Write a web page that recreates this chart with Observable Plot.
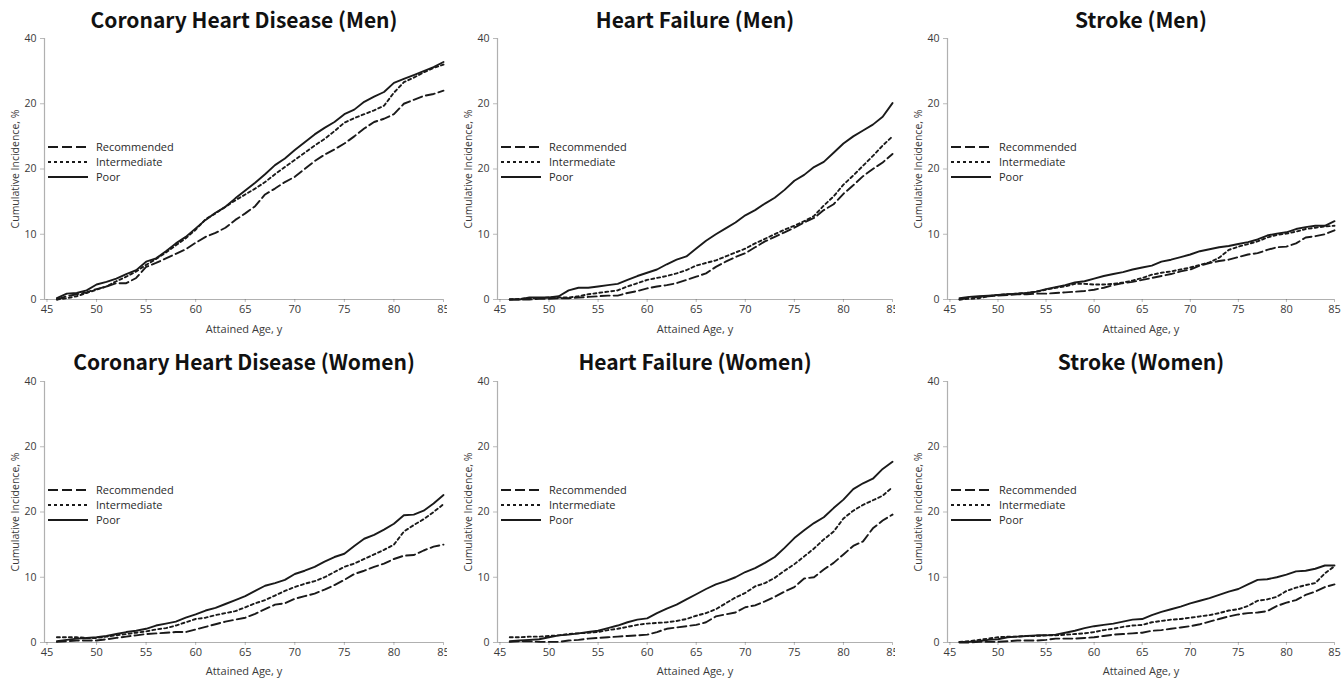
<!DOCTYPE html>
<html><head><meta charset="utf-8">
<script src="https://cdn.jsdelivr.net/npm/d3@7"></script>
<script src="https://cdn.jsdelivr.net/npm/@observablehq/plot@0.6"></script>
<style>
body{margin:0;background:#fff;}
#root{position:relative;width:1342px;height:680px;overflow:hidden;background:#fff;font-family:"Open Sans",sans-serif;}
.panel{position:absolute;}
.legend{position:absolute;font-size:11px;color:#2a2a2a;}
.legend .row{position:absolute;left:0;height:15px;display:flex;align-items:center;white-space:nowrap;}
.legend svg{display:block;margin-right:8px;}
</style></head><body><div id="root"></div>
<script>
const ages = [46,47,48,49,50,51,52,53,54,55,56,57,58,59,60,61,62,63,64,65,66,67,68,69,70,71,72,73,74,75,76,77,78,79,80,81,82,83,84,85];
const xTicks = [45,50,55,60,65,70,75,80,85];
const yTicks = [0,10,20,30,40];
const yTickLabels = ["0","10","20","20","40"];
const seriesNames = ["Recommended","Intermediate","Poor"];
const xLabel = "Attained Age, y";
const yLabel = "Cumulative Incidence, %";
const titles = ["Coronary Heart Disease (Men)","Heart Failure (Men)","Stroke (Men)","Coronary Heart Disease (Women)","Heart Failure (Women)","Stroke (Women)"];

// Coronary Heart Disease (Men)
const chdMenRec   = [0,0.5,0.8,1.1,1.6,2.0,2.5,2.5,3.3,5.0, 5.6,6.3,7.0,7.7,8.7,9.6,10.2,11.0,12.2,13.2, 14.3,16.1,17.0,18.0,18.8,20.0,21.2,22.2,23.0,23.9, 25.0,26.2,27.2,27.7,28.4,30.0,30.6,31.2,31.5,32.0];
const chdMenInter = [0,0.2,0.5,1.0,1.5,2.0,2.8,3.5,4.3,5.3, 6.2,7.2,8.3,9.4,10.7,12.3,13.2,14.2,15.2,16.1, 17.0,18.0,19.2,20.3,21.4,22.5,23.6,24.6,25.8,27.1, 27.8,28.4,29.0,29.7,31.7,33.3,34.0,34.8,35.5,36.0];
const chdMenPoor  = [0.2,0.9,1.0,1.4,2.3,2.7,3.2,3.9,4.5,5.8, 6.3,7.4,8.6,9.6,10.9,12.2,13.3,14.2,15.5,16.7, 17.9,19.2,20.6,21.6,22.9,24.1,25.3,26.3,27.2,28.4, 29.1,30.3,31.1,31.8,33.2,33.8,34.4,35.0,35.6,36.4];
// Heart Failure (Men)
const hfMenRec   = [0,0,0,0.1,0.1,0.2,0.2,0.3,0.4,0.5, 0.6,0.6,1.0,1.3,1.7,2.0,2.2,2.5,3.0,3.5, 4.0,5.0,5.8,6.5,7.1,8.0,8.9,9.6,10.3,11.0, 11.8,12.5,13.7,14.6,16.2,17.5,18.9,20.0,21.0,22.3];
const hfMenInter = [0,0.1,0.2,0.2,0.3,0.3,0.3,0.5,0.8,1.0, 1.2,1.4,2.0,2.5,3.0,3.3,3.6,4.0,4.5,5.2, 5.6,6.0,6.6,7.2,7.8,8.6,9.3,10.0,10.7,11.3, 12.0,12.8,14.4,15.8,17.6,19.0,20.5,22.0,23.6,25.0];
const hfMenPoor  = [0,0,0.3,0.3,0.3,0.5,1.4,1.8,1.8,2.0, 2.2,2.4,3.0,3.6,4.1,4.6,5.4,6.1,6.6,7.8, 9.0,10.0,10.9,11.8,12.9,13.7,14.7,15.6,16.8,18.2, 19.1,20.3,21.1,22.5,23.9,25.0,25.9,26.8,28.0,30.1];
// Stroke (Men)
const strokeMenRec   = [0,0.3,0.4,0.5,0.6,0.7,0.8,0.8,0.9,0.9, 1.0,1.1,1.2,1.3,1.5,1.8,2.2,2.5,2.7,3.0, 3.3,3.6,3.9,4.3,4.6,5.2,5.6,5.9,6.1,6.5, 6.9,7.1,7.6,8.0,8.1,8.6,9.5,9.7,10.0,10.6];
const strokeMenInter = [0,0.1,0.2,0.5,0.7,0.8,0.9,1.0,1.2,1.5, 1.8,2.0,2.4,2.4,2.3,2.3,2.4,2.6,2.9,3.3, 3.8,4.1,4.3,4.6,4.9,5.3,5.7,6.4,7.6,8.1, 8.5,8.9,9.5,9.9,10.1,10.4,10.8,11.0,11.2,11.3];
const strokeMenPoor  = [0.2,0.4,0.5,0.6,0.7,0.8,0.9,1.0,1.2,1.6, 1.9,2.2,2.6,2.8,3.2,3.6,3.9,4.2,4.6,4.9, 5.2,5.8,6.1,6.5,6.9,7.4,7.7,8.0,8.2,8.5, 8.8,9.2,9.8,10.1,10.3,10.8,11.1,11.3,11.3,12.0];
// Coronary Heart Disease (Women)
const chdWomenRec   = [0.1,0.2,0.3,0.3,0.3,0.5,0.7,0.9,1.1,1.3, 1.4,1.5,1.6,1.6,2.0,2.4,2.8,3.2,3.5,3.8, 4.4,5.1,5.8,6.0,6.7,7.1,7.5,8.1,8.8,9.6, 10.5,11.0,11.6,12.1,12.8,13.3,13.4,14.1,14.7,15.0];
const chdWomenInter = [0.8,0.8,0.8,0.7,0.7,0.9,1.1,1.3,1.5,1.7, 2.0,2.2,2.6,3.1,3.6,3.8,4.2,4.5,4.8,5.4, 6.0,6.5,7.2,7.9,8.5,9.0,9.4,10.0,10.8,11.6, 12.1,12.8,13.5,14.2,15.0,17.0,18.0,18.9,20.0,21.2];
const chdWomenPoor  = [0.2,0.4,0.6,0.7,0.8,1.0,1.3,1.6,1.8,2.1, 2.6,2.9,3.2,3.8,4.3,4.9,5.3,5.9,6.5,7.1, 7.9,8.7,9.1,9.6,10.5,11.0,11.6,12.4,13.1,13.6, 14.8,15.9,16.5,17.3,18.2,19.5,19.6,20.2,21.3,22.6];
// Heart Failure (Women)
const hfWomenRec   = [0.1,0.2,0.2,0.1,0.1,0.1,0.3,0.4,0.6,0.7, 0.8,0.9,1.0,1.1,1.2,1.6,2.1,2.3,2.5,2.7, 3.1,4.0,4.3,4.6,5.4,5.7,6.3,7.0,7.8,8.5, 9.8,10.0,11.2,12.2,13.5,14.8,15.5,17.5,18.7,19.6];
const hfWomenInter = [0.8,0.8,0.9,0.9,1.0,1.1,1.3,1.4,1.5,1.6, 1.9,2.1,2.4,2.7,2.9,3.0,3.1,3.3,3.6,4.1, 4.5,5.1,6.0,6.9,7.6,8.6,9.1,9.9,11.0,12.0, 13.2,14.4,15.8,17.0,19.0,20.2,21.1,21.8,22.5,23.8];
const hfWomenPoor  = [0.2,0.3,0.4,0.5,0.8,1.1,1.2,1.4,1.6,1.8, 2.2,2.6,3.1,3.5,3.7,4.5,5.2,5.8,6.6,7.4, 8.2,8.9,9.4,10.0,10.8,11.4,12.2,13.1,14.5,16.0, 17.2,18.3,19.2,20.6,21.9,23.5,24.4,25.1,26.6,27.7];
// Stroke (Women)
const strokeWomenRec   = [0,0,0.1,0.1,0.1,0.2,0.3,0.3,0.3,0.4, 0.6,0.6,0.6,0.7,0.8,1.0,1.2,1.3,1.4,1.5, 1.8,1.9,2.1,2.3,2.5,2.8,3.2,3.6,4.0,4.3, 4.5,4.6,4.8,5.6,6.1,6.5,7.3,7.8,8.5,8.9];
const strokeWomenInter = [0.1,0.2,0.4,0.6,0.8,0.9,0.9,1.0,1.0,1.1, 1.1,1.2,1.3,1.4,1.6,1.9,2.1,2.4,2.6,2.7, 3.1,3.3,3.5,3.6,3.8,4.0,4.2,4.5,4.9,5.1, 5.6,6.4,6.6,7.0,7.9,8.4,8.8,9.1,10.6,11.7];
const strokeWomenPoor  = [0.1,0.1,0.2,0.4,0.5,0.8,0.9,1.0,1.1,1.1, 1.2,1.5,1.8,2.2,2.5,2.7,2.9,3.2,3.5,3.6, 4.2,4.7,5.1,5.5,6.0,6.4,6.8,7.3,7.8,8.2, 8.9,9.6,9.7,10.0,10.4,10.9,11.0,11.3,11.8,11.8];

const xDomain = [44.75, 85];
const yDomain = [0, 40];
const dashes = ["9,4", "3,3", null];
const ink = "#1a1a1a";

const panels = [
  {title: titles[0], series: [chdMenRec, chdMenInter, chdMenPoor], left: 0,   top: 0,   width: 447, ml: 44, mr: 4, mt: 38, mb: 41},
  {title: titles[1], series: [hfMenRec, hfMenInter, hfMenPoor],    left: 447, top: 0,   width: 448, ml: 50, mr: 3, mt: 38, mb: 41},
  {title: titles[2], series: [strokeMenRec, strokeMenInter, strokeMenPoor], left: 895, top: 0, width: 447, ml: 52, mr: 8, mt: 38, mb: 41},
  {title: titles[3], series: [chdWomenRec, chdWomenInter, chdWomenPoor], left: 0, top: 340, width: 447, ml: 44, mr: 4, mt: 41, mb: 38},
  {title: titles[4], series: [hfWomenRec, hfWomenInter, hfWomenPoor], left: 447, top: 340, width: 448, ml: 50, mr: 3, mt: 41, mb: 38},
  {title: titles[5], series: [strokeWomenRec, strokeWomenInter, strokeWomenPoor], left: 895, top: 340, width: 447, ml: 52, mr: 8, mt: 41, mb: 38}
];

const root = document.getElementById("root");

for (const p of panels) {
  const lineMarks = p.series.map((vals, k) => {
    const rows = ages.map((a, i) => ({age: a, value: vals[i]}));
    return Plot.line(rows, {x: "age", y: "value", stroke: ink, strokeWidth: 1.9, strokeDasharray: dashes[k]});
  });
  const titleDy = p.top === 0 ? -17 : -18;
  const xLabDy = p.top === 0 ? 30 : 29;
  const chart = Plot.plot({
    width: p.width, height: 340,
    marginLeft: p.ml, marginRight: p.mr, marginTop: p.mt, marginBottom: p.mb,
    style: {fontFamily: "'Open Sans', sans-serif", fontSize: "11px", color: "#3a3a3a", background: "white", overflow: "visible"},
    x: {domain: xDomain},
    y: {domain: yDomain},
    marks: [
      Plot.ruleY([yDomain[0]], {stroke: "#b0b0b0", strokeWidth: 1.2}),
      Plot.ruleX([xDomain[0]], {stroke: "#b0b0b0", strokeWidth: 1.2}),
      Plot.axisX({ticks: xTicks, tickSize: 3, tickPadding: 3, strokeOpacity: 0.35, label: null, fontSize: 11}),
      Plot.axisY({ticks: yTicks, tickFormat: d => yTickLabels[yTicks.indexOf(d)], tickSize: 4, tickPadding: 4, strokeOpacity: 0.35, label: null, fontSize: 10.5}),
      ...lineMarks,
      Plot.text([p.title], {frameAnchor: "top", lineAnchor: "middle", dy: titleDy, text: d => d, fontSize: 21, fontWeight: "bold", letterSpacing: "0.5px", fontFamily: "'Noto Sans CJK JP', 'Noto Sans', sans-serif", fill: "#111"}),
      Plot.text([xLabel], {frameAnchor: "bottom", lineAnchor: "middle", dy: xLabDy, text: d => d, fontSize: 11, fill: "#3a3a3a"}),
      Plot.text([yLabel], {frameAnchor: "left", dx: -29, rotate: -90, textAnchor: "middle", lineAnchor: "middle", text: d => d, fontSize: 10.5, fill: "#3a3a3a"})
    ]
  });
  const wrap = document.createElement("div");
  wrap.className = "panel";
  wrap.style.left = p.left + "px";
  wrap.style.top = p.top + "px";
  wrap.appendChild(chart);
  root.appendChild(wrap);

  // legend
  const lg = document.createElement("div");
  lg.className = "legend";
  lg.style.left = (p.left + p.ml + 4) + "px";
  lg.style.top = (p.top + p.mt + 101) + "px";
  seriesNames.forEach((name, k) => {
    const row = document.createElement("div");
    row.className = "row";
    row.style.top = (k * 15) + "px";
    const dash = dashes[k] ? `stroke-dasharray="${k === 0 ? "10,4" : "3,3"}"` : "";
    row.innerHTML = `<svg width="40" height="10"><line x1="0" y1="5" x2="40" y2="5" stroke="${ink}" stroke-width="2" ${dash}/></svg><span>${name}</span>`;
    lg.appendChild(row);
  });
  root.appendChild(lg);
}
</script>
</body></html>
